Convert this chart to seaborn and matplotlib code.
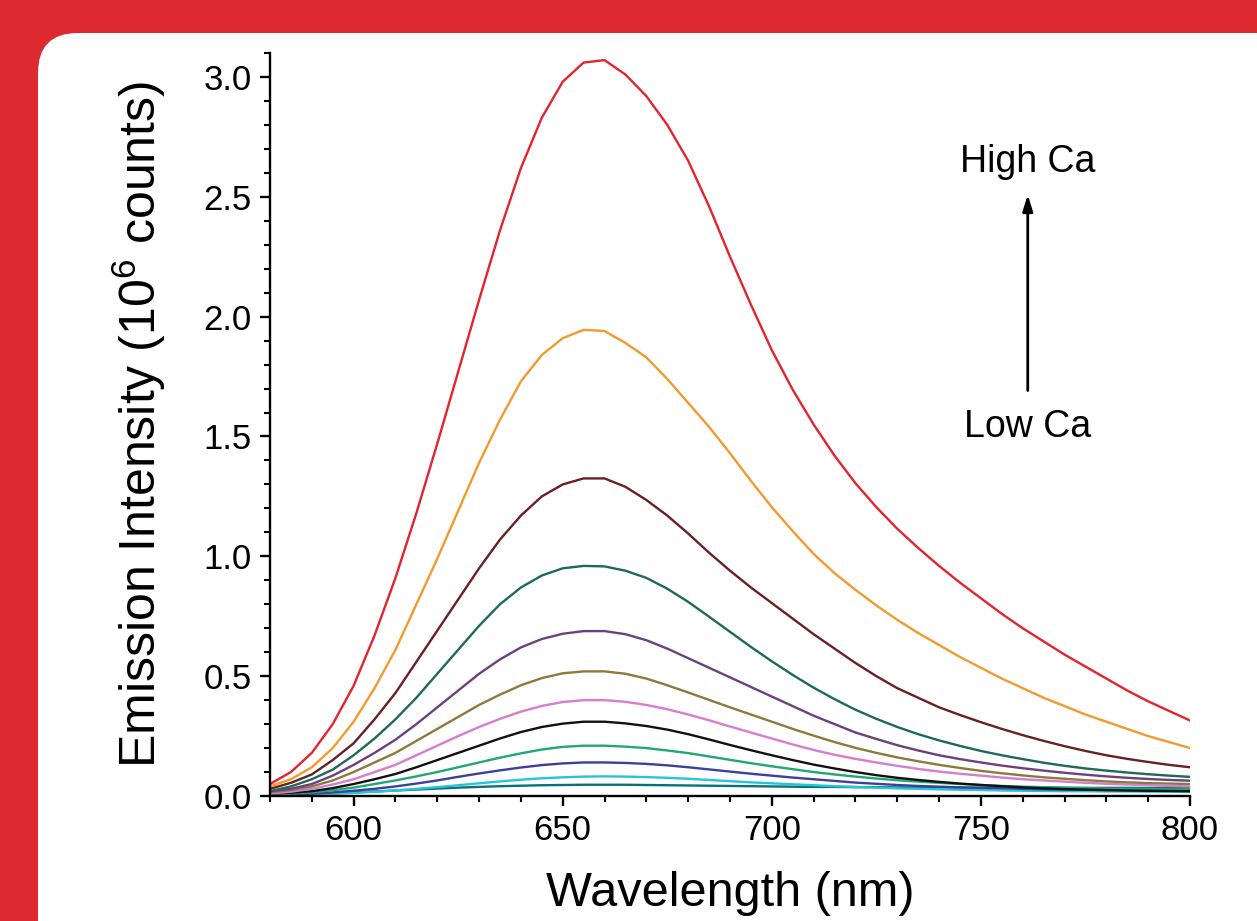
import numpy as np
import pandas as pd
import matplotlib
matplotlib.use("Agg")
import matplotlib.pyplot as plt
from matplotlib.patches import FancyBboxPatch
from matplotlib.ticker import MultipleLocator
import seaborn as sns

# ---------------- data ----------------
wavelength = list(range(580, 801, 5))  # nm

s_red = [0.05, 0.10, 0.18, 0.30, 0.46, 0.67, 0.91, 1.18, 1.47, 1.77, 2.07, 2.36, 2.62, 2.83, 2.98, 3.06,
         3.07, 3.01, 2.92, 2.80, 2.65, 2.46, 2.25, 2.05, 1.86, 1.695, 1.55, 1.42, 1.305, 1.205, 1.115, 1.035,
         0.96, 0.89, 0.825, 0.76, 0.70, 0.645, 0.59, 0.54, 0.49, 0.44, 0.395, 0.355, 0.315]
s_orange = [0.04, 0.07, 0.12, 0.20, 0.31, 0.45, 0.61, 0.80, 0.99, 1.19, 1.39, 1.57, 1.73, 1.84, 1.91, 1.945,
            1.94, 1.89, 1.83, 1.74, 1.64, 1.54, 1.43, 1.315, 1.205, 1.105, 1.01, 0.93, 0.86, 0.795, 0.735, 0.68,
            0.63, 0.58, 0.535, 0.49, 0.45, 0.41, 0.375, 0.34, 0.31, 0.28, 0.25, 0.225, 0.20]
s_maroon = [0.03, 0.055, 0.09, 0.15, 0.22, 0.32, 0.43, 0.56, 0.69, 0.82, 0.95, 1.07, 1.17, 1.25, 1.30, 1.325,
            1.325, 1.29, 1.235, 1.17, 1.095, 1.015, 0.94, 0.87, 0.805, 0.74, 0.675, 0.615, 0.555, 0.50, 0.45, 0.41,
            0.37, 0.338, 0.308, 0.28, 0.254, 0.23, 0.208, 0.188, 0.17, 0.155, 0.142, 0.13, 0.12]
s_teal = [0.02, 0.04, 0.07, 0.11, 0.17, 0.24, 0.32, 0.41, 0.51, 0.61, 0.71, 0.80, 0.87, 0.92, 0.95, 0.96,
          0.958, 0.94, 0.91, 0.865, 0.81, 0.748, 0.685, 0.622, 0.562, 0.505, 0.452, 0.404, 0.36, 0.322, 0.288, 0.258,
          0.232, 0.209, 0.188, 0.17, 0.154, 0.139, 0.126, 0.115, 0.106, 0.098, 0.091, 0.085, 0.08]
s_purple = [0.02, 0.03, 0.05, 0.085, 0.13, 0.18, 0.235, 0.30, 0.37, 0.44, 0.51, 0.57, 0.62, 0.655, 0.677, 0.688,
            0.688, 0.675, 0.65, 0.615, 0.575, 0.535, 0.495, 0.455, 0.415, 0.375, 0.335, 0.30, 0.265, 0.238, 0.212, 0.19,
            0.17, 0.154, 0.14, 0.127, 0.116, 0.106, 0.097, 0.089, 0.082, 0.076, 0.071, 0.067, 0.064]
s_olive = [0.015, 0.025, 0.04, 0.065, 0.10, 0.14, 0.18, 0.23, 0.28, 0.33, 0.38, 0.423, 0.462, 0.492, 0.512, 0.52,
           0.52, 0.51, 0.49, 0.462, 0.432, 0.401, 0.37, 0.34, 0.31, 0.28, 0.252, 0.225, 0.201, 0.18, 0.161, 0.145,
           0.13, 0.117, 0.105, 0.095, 0.086, 0.078, 0.072, 0.066, 0.061, 0.057, 0.054, 0.052, 0.05]
s_pink = [0.01, 0.018, 0.03, 0.048, 0.07, 0.10, 0.13, 0.17, 0.21, 0.25, 0.288, 0.322, 0.352, 0.376, 0.392, 0.40,
          0.40, 0.393, 0.38, 0.362, 0.34, 0.316, 0.29, 0.265, 0.24, 0.215, 0.192, 0.172, 0.155, 0.14, 0.126, 0.113,
          0.102, 0.093, 0.085, 0.077, 0.07, 0.065, 0.06, 0.055, 0.051, 0.048, 0.045, 0.042, 0.04]
s_black = [0.01, 0.014, 0.02, 0.033, 0.05, 0.07, 0.092, 0.12, 0.15, 0.18, 0.21, 0.24, 0.267, 0.288, 0.302, 0.31,
           0.31, 0.303, 0.292, 0.277, 0.258, 0.236, 0.213, 0.191, 0.17, 0.15, 0.131, 0.115, 0.10, 0.087, 0.076, 0.067,
           0.059, 0.052, 0.046, 0.041, 0.036, 0.032, 0.029, 0.027, 0.025, 0.023, 0.022, 0.021, 0.02]
s_green = [0.005, 0.01, 0.015, 0.024, 0.035, 0.05, 0.065, 0.082, 0.10, 0.12, 0.14, 0.16, 0.178, 0.194, 0.205, 0.21,
           0.21, 0.206, 0.20, 0.19, 0.179, 0.165, 0.151, 0.137, 0.124, 0.112, 0.10, 0.09, 0.081, 0.073, 0.066, 0.06,
           0.055, 0.05, 0.046, 0.042, 0.039, 0.037, 0.035, 0.033, 0.031, 0.03, 0.029, 0.028, 0.028]
s_navy = [0.003, 0.006, 0.01, 0.015, 0.022, 0.03, 0.04, 0.052, 0.065, 0.08, 0.094, 0.107, 0.119, 0.129, 0.136, 0.14,
          0.14, 0.138, 0.134, 0.128, 0.12, 0.111, 0.102, 0.093, 0.085, 0.077, 0.07, 0.063, 0.056, 0.051, 0.046, 0.042,
          0.039, 0.036, 0.034, 0.032, 0.03, 0.028, 0.027, 0.026, 0.025, 0.025, 0.024, 0.023, 0.023]
s_cyan = [0.002, 0.004, 0.006, 0.009, 0.013, 0.018, 0.023, 0.03, 0.037, 0.045, 0.053, 0.061, 0.068, 0.074, 0.078, 0.081,
          0.082, 0.081, 0.079, 0.076, 0.072, 0.067, 0.062, 0.057, 0.053, 0.049, 0.045, 0.041, 0.038, 0.035, 0.032, 0.03,
          0.028, 0.026, 0.025, 0.023, 0.022, 0.021, 0.02, 0.02, 0.019, 0.019, 0.018, 0.018, 0.017]
s_darkteal = [0.003, 0.005, 0.008, 0.011, 0.015, 0.019, 0.023, 0.027, 0.031, 0.035, 0.038, 0.041, 0.043, 0.045, 0.046, 0.047,
              0.047, 0.047, 0.046, 0.045, 0.044, 0.043, 0.042, 0.041, 0.040, 0.039, 0.038, 0.038, 0.037, 0.037, 0.036, 0.036,
              0.036, 0.035, 0.035, 0.035, 0.035, 0.034, 0.034, 0.034, 0.034, 0.034, 0.033, 0.033, 0.033]

series_names = ["s12", "s11", "s10", "s9", "s8", "s7", "s6", "s5", "s4", "s3", "s2", "s1"]
series_values = [s_darkteal, s_cyan, s_navy, s_green, s_black, s_pink, s_olive, s_purple,
                 s_teal, s_maroon, s_orange, s_red]
series_colors = ["#0b6f7a", "#27c4d8", "#3d3f9c", "#1fa874", "#111111", "#d77ccf", "#8c7a3c", "#6e3f80",
                 "#1c6a58", "#6a1f22", "#f39a2c", "#e5232e"]

x_ticks = [600, 650, 700, 750, 800]
y_ticks = [0.0, 0.5, 1.0, 1.5, 2.0, 2.5, 3.0]
y_ticklabels = ["0.0", "0.5", "1.0", "1.5", "2.0", "2.5", "3.0"]

frames = []
for name, vals in zip(series_names, series_values):
    frames.append(pd.DataFrame({"wavelength": wavelength, "intensity": vals, "series": name}))
df = pd.concat(frames, ignore_index=True)

# ---------------- style ----------------
sns.set_theme(style="ticks")
plt.rcParams["font.family"] = ["Liberation Sans", "DejaVu Sans"]
plt.rcParams["mathtext.fontset"] = "custom"
plt.rcParams["mathtext.rm"] = "Liberation Sans"
plt.rcParams["mathtext.it"] = "Liberation Sans:italic"
plt.rcParams["mathtext.default"] = "regular"

fig = plt.figure(figsize=(12.57, 9.21), dpi=100)
fig.patch.set_facecolor("#dc2a30")
panel = FancyBboxPatch((0.38, -1.0), 13.0, 9.88, boxstyle="round,pad=0,rounding_size=0.4",
                       transform=fig.dpi_scale_trans, facecolor="white", edgecolor="none", zorder=-10)
fig.patches.append(panel)

ax = fig.add_axes([0.2148, 0.1357, 0.7319, 0.8068])
ax.set_zorder(5)
ax.set_facecolor("none")

sns.lineplot(data=df, x="wavelength", y="intensity", hue="series", hue_order=series_names,
             palette=dict(zip(series_names, series_colors)), linewidth=1.7, legend=False,
             ax=ax, sort=False, estimator=None)

ax.set_xlim(580, 800)
ax.set_ylim(0, 3.1)
ax.set_xticks(x_ticks)
ax.set_yticks(y_ticks)
ax.set_yticklabels(y_ticklabels)
ax.xaxis.set_minor_locator(MultipleLocator(10))
ax.yaxis.set_minor_locator(MultipleLocator(0.1))

for side in ["top", "right"]:
    ax.spines[side].set_visible(False)
for side in ["left", "bottom"]:
    ax.spines[side].set_linewidth(1.7)
    ax.spines[side].set_color("black")

ax.tick_params(which="major", direction="out", length=7, width=1.7, labelsize=25, colors="black", pad=6)
ax.tick_params(which="minor", direction="out", length=4, width=1.5, colors="black")

ax.set_xlabel("Wavelength (nm)", fontsize=35, labelpad=17, color="black")
ax.set_ylabel(r"Emission Intensity (10$^6$ counts)", fontsize=36, labelpad=26, color="black")

# annotation arrow
ax.annotate("", xy=(761.2, 2.52), xytext=(761.2, 1.68),
            arrowprops=dict(arrowstyle="-|>,head_length=0.8,head_width=0.25", color="black", lw=2))
ax.text(761.2, 2.645, "High Ca", ha="center", va="center", fontsize=27, color="black")
ax.text(761.2, 1.54, "Low Ca", ha="center", va="center", fontsize=27, color="black")

fig.savefig("out.png", dpi=100, facecolor=fig.get_facecolor())
